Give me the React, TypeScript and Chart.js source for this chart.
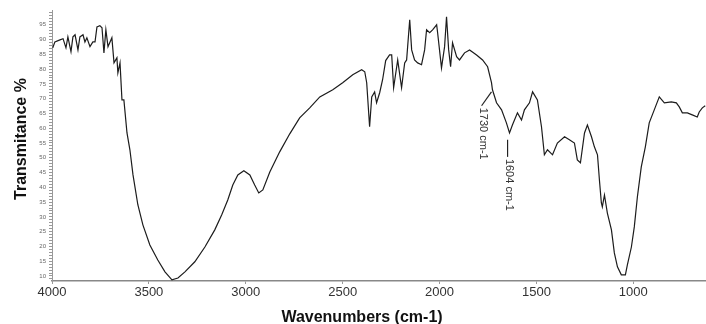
import React, { useEffect, useRef } from "react";
import { Chart, registerables } from "chart.js";
Chart.register(...registerables);

const wavenumbers = [3996,3985,3959,3943,3928,3918,3902,3892,3881,3866,3856,3840,3830,3820,3804,3789,3778,3768,3753,3742,3732,3722,3711,3691,3680,3665,3660,3649,3639,3629,3613,3598,3582,3557,3531,3495,3454,3417,3381,3350,3314,3263,3211,3160,3124,3093,3067,3041,3010,2979,2954,2933,2912,2876,2825,2773,2722,2670,2618,2551,2500,2448,2402,2386,2376,2361,2350,2335,2325,2309,2294,2278,2258,2247,2237,2216,2196,2180,2170,2154,2144,2129,2113,2093,2077,2067,2051,2036,2015,2010,1990,1974,1964,1953,1943,1933,1912,1897,1871,1845,1809,1778,1752,1732,1727,1706,1680,1655,1639,1624,1598,1577,1562,1536,1520,1495,1474,1459,1443,1417,1392,1355,1330,1304,1289,1273,1252,1237,1216,1201,1185,1175,1165,1160,1149,1134,1113,1098,1082,1062,1041,1031,1010,995,979,959,938,918,892,866,840,804,778,763,747,721,696,670,660,644,629];

const transmittance = [87.2,89.2,89.9,90.3,87.2,90.9,85.9,90.9,91.6,86.5,90.9,91.6,89.2,90.6,87.6,89.2,89.2,94.3,94.7,94.0,85.5,93.3,87.6,90.6,82.1,83.8,78.7,82.1,69.6,69.6,58.4,52.7,44.2,34.1,27.3,20.5,15.4,11.4,8.7,9.3,11.4,14.8,19.8,25.6,30.7,35.7,40.8,44.2,45.6,44.2,40.8,38.1,39.1,45.2,52.0,58.1,63.5,66.9,70.6,73.0,75.4,78.1,79.8,79.1,75.4,60.5,70.6,72.3,68.6,72.0,76.4,82.9,84.8,84.8,73.7,83.1,73.7,82.1,83.1,96.7,86.5,83.1,82.1,81.5,86.5,93.3,92.3,93.3,95.0,92.3,80.4,87.6,97.7,86.5,80.8,88.9,84.2,83.1,85.5,86.5,84.8,83.1,80.8,75.4,73.0,68.6,66.2,61.8,58.4,61.1,65.2,62.8,66.2,68.6,72.3,69.6,60.5,51.0,52.7,51.0,55.0,57.1,56.1,55.0,49.3,48.3,58.4,61.1,57.1,53.7,51.0,42.5,34.7,33.4,37.4,31.3,25.6,17.8,13.1,10.4,10.4,13.7,19.8,26.6,36.8,46.9,53.7,61.8,66.2,70.6,68.6,68.9,68.6,67.2,65.2,65.2,64.5,63.8,65.5,66.9,67.6];

const xTickValues = [4000, 3500, 3000, 2500, 2000, 1500, 1000];
const yTickLabels = [10, 15, 20, 25, 30, 35, 40, 45, 50, 55, 60, 65, 70, 75, 80, 85, 90, 95];

const annotationText = ["1730 cm-1", "1604 cm-1"];
const leaderStartWave = [1732, 1649];
const leaderStartValue = [72.3, 56.1];
const leaderEndWave = [1783, 1649];
const leaderEndValue = [67.6, 50.3];

const X_TITLE = "Wavenumbers (cm-1)";
const Y_TITLE = "Transmitance %";
const FONT = "'Liberation Sans', Arial, sans-serif";

export default function App() {
  const ref = useRef<HTMLCanvasElement | null>(null);

  useEffect(() => {
    if (!ref.current) return;
    const points = wavenumbers.map((w, i) => ({ x: w, y: transmittance[i] }));

    const overlay = {
      id: "overlay",
      afterDatasetsDraw(chart: any) {
        const ctx = chart.ctx;
        const xs = chart.scales.x;
        const ys = chart.scales.y;
        ctx.save();
        ctx.strokeStyle = "#222";
        ctx.fillStyle = "#333";
        ctx.lineWidth = 1.2;
        ctx.font = `11px ${FONT}`;
        for (let i = 0; i < annotationText.length; i++) {
          const x1 = xs.getPixelForValue(leaderStartWave[i]);
          const y1 = ys.getPixelForValue(leaderStartValue[i]);
          const x2 = xs.getPixelForValue(leaderEndWave[i]);
          const y2 = ys.getPixelForValue(leaderEndValue[i]);
          ctx.beginPath();
          ctx.moveTo(x1, y1);
          ctx.lineTo(x2, y2);
          ctx.stroke();
          ctx.save();
          ctx.translate(x2 + 1, y2 + 2);
          ctx.rotate(Math.PI / 2);
          ctx.textAlign = "left";
          ctx.textBaseline = "middle";
          ctx.fillText(annotationText[i], 0, 0);
          ctx.restore();
        }
        ctx.fillStyle = "#111";
        ctx.font = `bold 16px ${FONT}`;
        ctx.textAlign = "center";
        ctx.textBaseline = "alphabetic";
        ctx.fillText(X_TITLE, 362, 322);
        ctx.save();
        ctx.translate(26, 139);
        ctx.rotate(-Math.PI / 2);
        ctx.fillText(Y_TITLE, 0, 0);
        ctx.restore();
        ctx.restore();
      },
    };

    const chart = new Chart(ref.current, {
      type: "line",
      data: {
        datasets: [
          {
            data: points,
            borderColor: "#1c1c1c",
            borderWidth: 1.2,
            pointRadius: 0,
            tension: 0,
            fill: false,
          },
        ],
      },
      options: {
        animation: false,
        responsive: false,
        devicePixelRatio: 1,
        layout: { padding: { top: 10, left: 0, right: 0, bottom: 0 } },
        plugins: { legend: { display: false }, tooltip: { enabled: false } },
        scales: {
          x: {
            type: "linear",
            reverse: true,
            min: 625,
            max: 4000,
            afterBuildTicks: (s: any) => {
              s.ticks = xTickValues.map((v) => ({ value: v }));
            },
            afterFit: (s: any) => {
              s.height = 43;
            },
            ticks: {
              autoSkip: false,
              maxRotation: 0,
              color: "#333",
              padding: 1,
              font: { size: 13, family: FONT },
              callback: (v: any) => String(v),
            },
            grid: { display: true, drawOnChartArea: false, drawTicks: true, tickLength: 3, color: "#999" },
            border: { display: true, color: "#888", width: 1.5 },
          },
          y: {
            type: "linear",
            min: 8.3,
            max: 100,
            afterBuildTicks: (s: any) => {
              const t = [];
              for (let v = 9; v <= 99; v++) t.push({ value: v });
              s.ticks = t;
            },
            afterFit: (s: any) => {
              s.width = 52;
            },
            ticks: {
              autoSkip: false,
              color: "#666",
              padding: 3,
              font: { size: 6, family: FONT },
              callback: (v: any) => (yTickLabels.includes(v) ? String(v) : ""),
            },
            grid: { display: true, drawOnChartArea: false, drawTicks: true, tickLength: 3, color: "#999" },
            border: { display: true, color: "#999", width: 1 },
          },
        },
      },
      plugins: [overlay],
    } as any);

    return () => chart.destroy();
  }, []);

  return (
    <div style={{ position: "absolute", left: 0, top: 0, width: 706, height: 324, background: "#fff" }}>
      <canvas ref={ref} width={706} height={324} style={{ width: 706, height: 324, display: "block" }} />
    </div>
  );
}
